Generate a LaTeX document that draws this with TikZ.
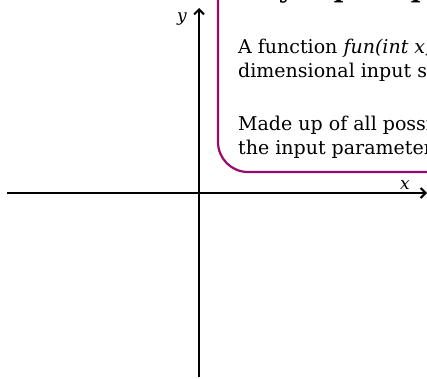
\documentclass[tikz,border=0pt]{standalone}
\usepackage{fontspec}
\setmainfont{DejaVu Serif}
\usetikzlibrary{arrows.meta}
\definecolor{boxpurple}{RGB}{153,10,108}
\begin{document}
\begin{tikzpicture}[x=1pt,y=-1pt,
  axis/.style={line width=2pt, -{Straight Barb[length=5pt,width=10pt,line width=2pt]}},
  body/.style={font=\fontsize{19}{24}\selectfont, anchor=base west, inner sep=0pt},
  title/.style={font=\bfseries\fontsize{26}{30}\selectfont, anchor=base west, inner sep=0pt},
  axlabel/.style={font=\itshape\fontsize{17}{17}\selectfont, inner sep=0pt}]
\useasboundingbox (0,0) rectangle (427,378);
\clip (0,0) rectangle (427,378);
\fill[white] (0,0) rectangle (427,378);
% box
\draw[boxpurple, line width=2.2pt, rounded corners=30pt] (218,-100) |- (800,172);
\node[title] (ttl) at (240,-3) {Key Input Space};
\node[body] (l1) at (238,53) {A function \textit{fun(int x, int y)} has a two-};
\node[body] (l2) at (238,77) {dimensional input space};
\node[body] (l3) at (238,130) {Made up of all possible values of};
\node[body] (l4) at (238,154) {the input parameters};
% axes
\coordinate (xs) at (7,193);
\coordinate (xe) at (427,193);
\coordinate (ys) at (199,377);
\coordinate (ye) at (199,8);
\draw[axis] (xs) -- (xe);
\draw[axis] (ys) -- (ye);
\node[axlabel] (ylab) at (182,19) {y};
\node[axlabel] (xlab) at (405,185) {x};
\end{tikzpicture}
\end{document}
